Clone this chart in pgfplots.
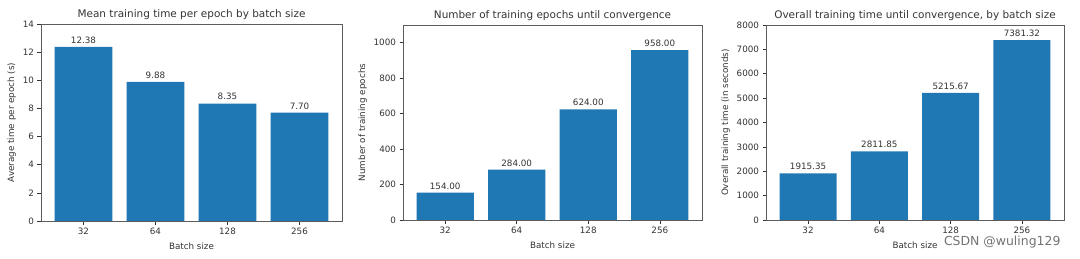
\documentclass[border=0pt]{standalone}
\usepackage{pgfplots}
\pgfplotsset{compat=1.18}
\usepackage{fontspec}
\setmainfont{DejaVu Sans}
\definecolor{mplblue}{HTML}{1F77B4}
\definecolor{txt}{HTML}{333333}
\pgfplotsset{
 myax/.style={
  scale only axis, ybar, bar width=0.8, bar shift=0pt,
  xmin=-0.59, xmax=3.59, ymin=0,
  xtick={0,1,2,3}, xticklabels={32,64,128,256},
  xtick pos=bottom, ytick pos=left,
  tick align=outside, major tick length=3.5bp,
  tick style={color=txt, line width=0.6pt},
  axis line style={color=txt!80, line width=0.6pt},
  ticklabel style={font=\fontsize{8.8}{9}\selectfont, text=txt},
  /pgf/number format/assume math mode=true,
  /pgf/number format/1000 sep={},
  scaled y ticks=false,
  title style={font=\fontsize{10.5}{12}\selectfont, text=txt, yshift=-5bp},
  label style={font=\fontsize{8.8}{10}\selectfont, text=txt},
  xlabel style={yshift=-1bp},
  xlabel={Batch size},
  nodes near coords={\pgfmathprintnumber[fixed,fixed zerofill,precision=2,1000 sep={}]{\pgfplotspointmeta}},
  every node near coord/.append style={font=\fontsize{8.8}{9}\selectfont, text=txt},
  point meta=y,
 }
}
\begin{document}
\begin{tikzpicture}
\path[use as bounding box] (0,0) rectangle (1080bp,259bp);
\begin{axis}[myax, at={(41bp,38bp)}, anchor=south west, width=301bp, height=197bp,
  ymax=14, ytick={0,2,...,14},
  title={Mean training time per epoch by batch size},
  ylabel={Average time per epoch (s)}]
\addplot[fill=mplblue, draw=none] coordinates {(0,12.38) (1,9.88) (2,8.35) (3,7.70)};
\end{axis}
\begin{axis}[myax, at={(403bp,39bp)}, anchor=south west, width=299bp, height=195bp,
  ymax=1100, ytick={0,200,...,1000},
  title={Number of training epochs until convergence},
  ylabel={Number of training epochs}]
\addplot[fill=mplblue, draw=none] coordinates {(0,154) (1,284) (2,624) (3,958)};
\end{axis}
\begin{axis}[myax, at={(766bp,39bp)}, anchor=south west, width=298bp, height=195bp,
  ymax=8000, ytick={0,1000,...,8000},
  title={Overall training time until convergence, by batch size},
  ylabel={Overall training time (in seconds)}]
\addplot[fill=mplblue, draw=none] coordinates {(0,1915.35) (1,2811.85) (2,5215.67) (3,7381.32)};
\end{axis}
\node[anchor=east, text=black!55, font=\fontsize{12.5}{14}\selectfont] at (1064bp,17bp) {CSDN @wuling129};
\end{tikzpicture}
\end{document}
